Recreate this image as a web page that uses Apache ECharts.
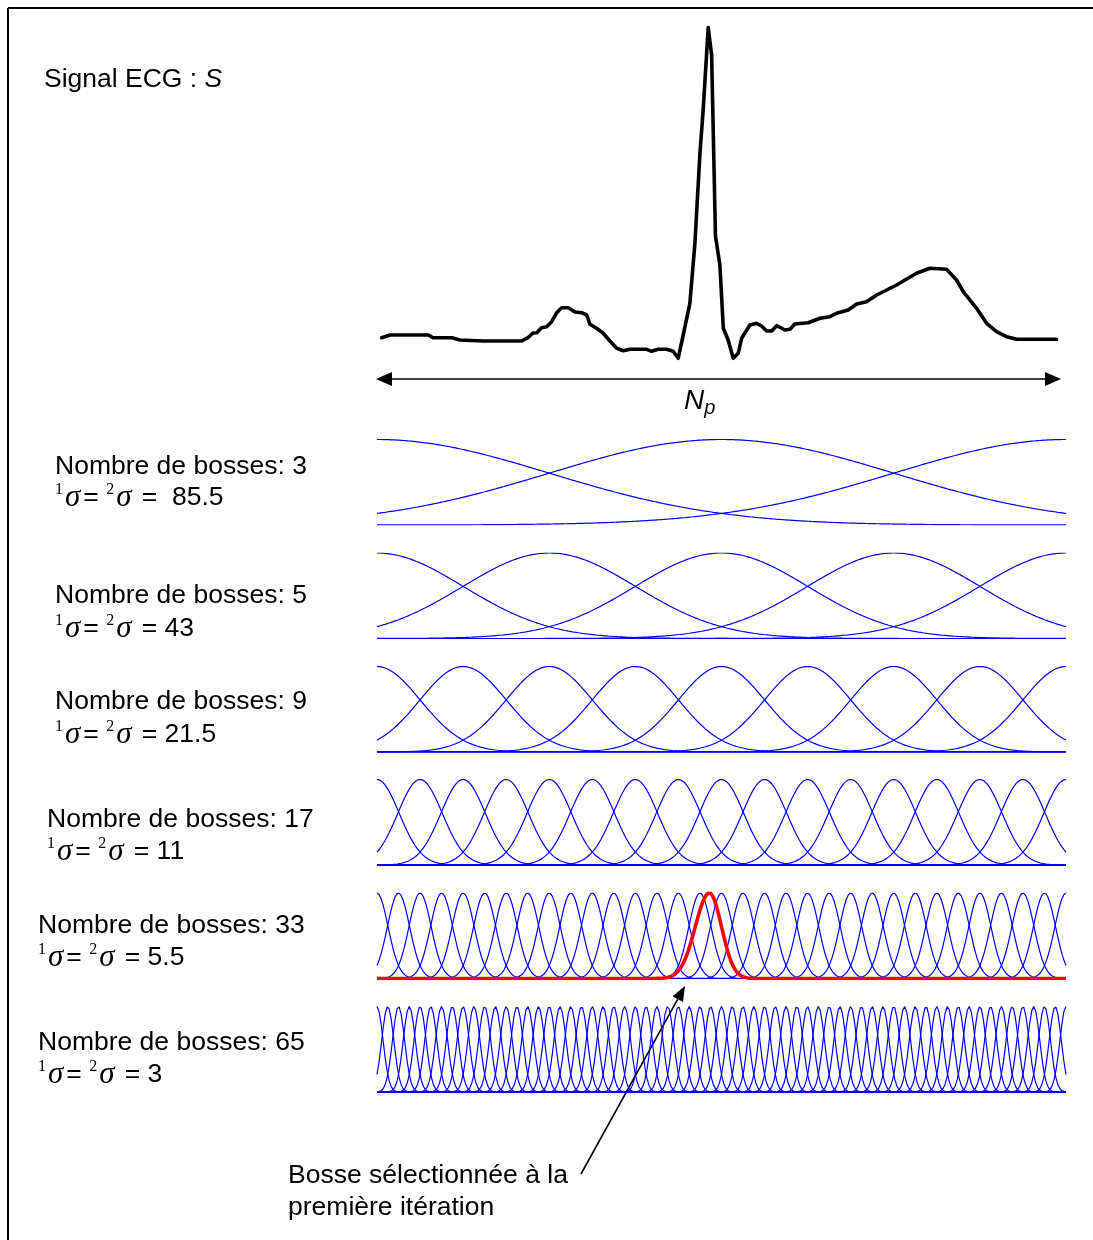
<!DOCTYPE html>
<html>
<head>
<meta charset="utf-8">
<script src="https://cdn.jsdelivr.net/npm/echarts@6/dist/echarts.min.js"></script>
<style>
  html, body { margin: 0; padding: 0; background: #fff; }
  #chart { width: 1093px; height: 1240px; }
</style>
</head>
<body>
<div id="chart"></div>
<script>
// Length of the analysed beat, in samples
const Np = 342;

// ECG beat S: sample index and amplitude
const ecgSample = [2.3, 6.5, 25.5, 27.8, 37.1, 41.2, 52.6, 71.8, 74.9, 77.4, 79.3, 81.7, 84.2, 86.7, 89.2, 91.7, 94.9, 98.3, 101.6, 104.1, 105.7, 109.0, 112.3, 115.6, 119.0, 122.2, 125.6, 133.8, 136.3, 139.6, 143.8, 147.0, 149.5, 152.0, 155.3, 157.8, 160.3, 161.9, 164.4, 166.1, 168.0, 170.2, 171.9, 174.3, 176.8, 179.3, 181.0, 185.1, 188.4, 190.9, 193.4, 195.9, 198.4, 202.5, 205.0, 207.4, 214.0, 219.9, 224.8, 228.1, 233.9, 238.1, 243.0, 248.0, 253.0, 257.9, 267.8, 274.4, 282.7, 287.7, 291.0, 297.6, 302.6, 307.5, 312.5, 317.5, 337.3];
const ecgAmp = [3.3, 6, 6, 3.3, 3.3, 1, 0, 0, 3.3, 8, 8.3, 13.3, 14.3, 19.3, 28.3, 33.3, 33.3, 29, 28.3, 26, 16.7, 12.7, 7.7, 0, -7.3, -9.7, -8.3, -8.3, -10.3, -8.3, -8.3, -10.3, -17.3, 6, 37.7, 97.7, 187.7, 231, 313.5, 286, 105, 76, 12.7, 1, -17.3, -12.3, 2.7, 16, 17.7, 15, 10, 10, 15.3, 11, 11.7, 17, 18.3, 22.7, 24.3, 27.7, 31, 37, 39.3, 46, 51, 56, 67.7, 72.7, 71.7, 61, 49.3, 32.7, 17.7, 9.3, 4.3, 1.7, 1.7];

// Gaussian bump dictionaries: number of bumps and width (1σ = 2σ)
const bumpCounts = [3, 5, 9, 17, 33, 65];
const bumpSigmas = [85.5, 43, 21.5, 11, 5.5, 3];
const sigmaText = ['85.5', '43', '21.5', '11', '5.5', '3'];

// Bump picked at the first iteration (row of 33 bumps)
const selectedRow = 4;
const selectedCenter = 165;
const selectedSigmas = [7, 6];   // left width, right width

// ---- layout ----
const plotLeft = 377, plotWidth = 689;
const rowTop = [439.5, 553, 666.5, 779.5, 893, 1006.5];
const rowHeight = 85.5;
const labelX = [55, 55, 55, 47, 38, 38];
const nameY = [467, 596, 702, 820, 926, 1043];
const sigmaY = [498, 629, 735, 852, 958, 1075];
const SANS = '"Liberation Sans", Arial, sans-serif';
const SERIF = '"Liberation Serif", "Times New Roman", serif';
const FS = 26.5;

function gaussian(x, c, s) {
  const d = (x - c) / s;
  return Math.exp(-0.5 * d * d);
}

const grids = [], xAxes = [], yAxes = [], series = [];

// ECG panel
grids.push({ left: plotLeft, width: plotWidth, top: 21, height: 340 });
xAxes.push({ type: 'value', gridIndex: 0, min: 0, max: Np, show: false });
yAxes.push({ type: 'value', gridIndex: 0, min: -20, max: 320, show: false });
series.push({
  type: 'line', xAxisIndex: 0, yAxisIndex: 0, showSymbol: false, silent: true,
  data: ecgSample.map((s, i) => [s, ecgAmp[i]]),
  lineStyle: { color: '#000', width: 3.6, join: 'round', cap: 'round' }
});

// Bump rows
bumpCounts.forEach((n, r) => {
  const g = r + 1;
  grids.push({ left: plotLeft, width: plotWidth, top: rowTop[r], height: rowHeight });
  xAxes.push({ type: 'value', gridIndex: g, min: 0, max: Np, show: false });
  yAxes.push({ type: 'value', gridIndex: g, min: 0, max: 1, show: false });
  const step = Np / (n - 1);
  for (let k = 0; k < n; k++) {
    const c = k * step;
    const pts = [];
    for (let x = 0; x <= Np; x++) pts.push([x, gaussian(x, c, bumpSigmas[r])]);
    series.push({
      type: 'line', xAxisIndex: g, yAxisIndex: g, showSymbol: false, silent: true,
      data: pts, lineStyle: { color: '#0000ff', width: 1.2 }
    });
  }
  if (r === selectedRow) {
    const pts = [];
    for (let x = 0; x <= Np; x += 0.5) {
      const s = x < selectedCenter ? selectedSigmas[0] : selectedSigmas[1];
      pts.push([x, gaussian(x, selectedCenter, s)]);
    }
    series.push({
      type: 'line', xAxisIndex: g, yAxisIndex: g, showSymbol: false, silent: true, z: 5,
      data: pts, lineStyle: { color: '#ff0000', width: 3.6, join: 'round' }
    });
  }
});

// ---- text and annotations ----
const graphics = [];
// frame
graphics.push({ type: 'line', shape: { x1: 8, y1: 8, x2: 1093, y2: 8 }, style: { stroke: '#000', lineWidth: 2 } });
graphics.push({ type: 'line', shape: { x1: 8, y1: 8, x2: 8, y2: 1240 }, style: { stroke: '#000', lineWidth: 2 } });

graphics.push({
  type: 'text', x: 44, y: 80,
  style: {
    text: '{t|Signal ECG : }{i|S}', verticalAlign: 'middle',
    rich: {
      t: { fontSize: FS, fontFamily: SANS, fill: '#000' },
      i: { fontSize: FS, fontFamily: SANS, fontStyle: 'italic', fill: '#000' }
    }
  }
});

// Np double arrow
const arrowY = 379;
graphics.push({ type: 'line', shape: { x1: 385, y1: arrowY, x2: 1052, y2: arrowY }, style: { stroke: '#000', lineWidth: 1.5 } });
graphics.push({ type: 'polygon', shape: { points: [[376, arrowY], [392, arrowY - 7], [392, arrowY + 7]] }, style: { fill: '#000' } });
graphics.push({ type: 'polygon', shape: { points: [[1061, arrowY], [1045, arrowY - 7], [1045, arrowY + 7]] }, style: { fill: '#000' } });
graphics.push({
  type: 'text', x: 684, y: 401,
  style: {
    text: '{n|N}{p|p}', verticalAlign: 'middle',
    rich: {
      n: { fontSize: 28, fontFamily: SANS, fontStyle: 'italic', fill: '#000' },
      p: { fontSize: 20, fontFamily: SANS, fontStyle: 'italic', fill: '#000', verticalAlign: 'bottom', padding: [14, 0, 0, 0] }
    }
  }
});

// Row labels
bumpCounts.forEach((n, r) => {
  graphics.push({
    type: 'text', x: labelX[r], y: nameY[r],
    style: { text: 'Nombre de bosses: ' + n, fontSize: FS, fontFamily: SANS, fill: '#000', verticalAlign: 'middle' }
  });
  const gap = r === 0 ? '  ' : ' ';
  graphics.push({
    type: 'text', x: labelX[r], y: sigmaY[r],
    style: {
      text: '{s|1}{g|σ}{t|= }{s|2}{g|σ}{t| =' + gap + sigmaText[r] + '}',
      verticalAlign: 'middle',
      rich: {
        s: { fontSize: 16, fontFamily: SERIF, fill: '#000', verticalAlign: 'top', lineHeight: 32, padding: [0, 2, 0, 0] },
        g: { fontSize: 31, fontFamily: SERIF, fontStyle: 'italic', fill: '#000', lineHeight: 32, padding: [0, 3, 0, 0] },
        t: { fontSize: FS, fontFamily: SANS, fill: '#000', lineHeight: 32 }
      }
    }
  });
});

// Annotation for the selected bump
const tail = [581, 1174], tip = [685, 986];
const dx = tip[0] - tail[0], dy = tip[1] - tail[1];
const len = Math.hypot(dx, dy), ux = dx / len, uy = dy / len;
const headL = 15, headW = 6;
const base = [tip[0] - ux * headL, tip[1] - uy * headL];
graphics.push({ type: 'line', shape: { x1: tail[0], y1: tail[1], x2: base[0], y2: base[1] }, style: { stroke: '#000', lineWidth: 1.6 } });
graphics.push({
  type: 'polygon',
  shape: { points: [tip, [base[0] - uy * headW, base[1] + ux * headW], [base[0] + uy * headW, base[1] - ux * headW]] },
  style: { fill: '#000' }
});
graphics.push({
  type: 'text', x: 288, y: 1160,
  style: { text: 'Bosse sélectionnée à la\npremière itération', fontSize: FS, fontFamily: SANS, fill: '#000', lineHeight: 32, verticalAlign: 'top' }
});

const chart = echarts.init(document.getElementById('chart'), null, { renderer: 'canvas' });
chart.setOption({
  animation: false,
  backgroundColor: '#fff',
  grid: grids,
  xAxis: xAxes,
  yAxis: yAxes,
  series: series,
  graphic: { elements: graphics }
});
</script>
</body>
</html>
